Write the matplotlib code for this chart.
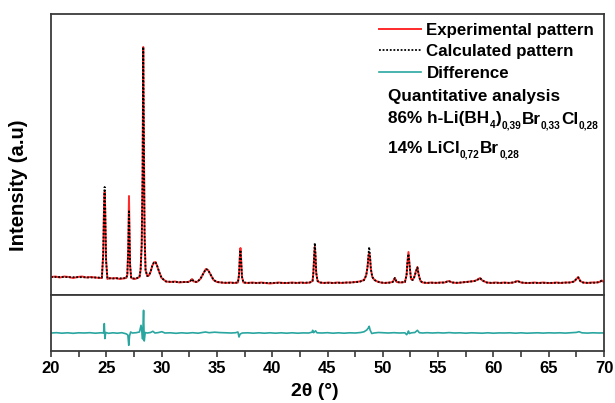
import matplotlib
matplotlib.use("Agg")
import matplotlib.pyplot as plt
from matplotlib.ticker import MultipleLocator

plt.rcParams['font.family'] = ['Liberation Sans', 'DejaVu Sans']
plt.rcParams['font.weight'] = 'bold'

# ---------------- data ----------------
two_theta = [
    20.0, 20.4, 20.8, 21.2, 21.6, 22.0, 22.4, 22.8, 23.2, 23.6, 24.0, 24.4,
    24.6, 24.72, 24.8, 24.85, 24.9, 24.98, 25.1,
    25.3, 25.6, 25.9, 26.2, 26.5, 26.8,
    26.9, 26.98, 27.02, 27.05, 27.09, 27.15, 27.25,
    27.4, 27.6, 27.8, 28.0, 28.1, 28.2, 28.28, 28.34, 28.4, 28.46, 28.55, 28.7, 28.85,
    29.0, 29.15, 29.3, 29.45, 29.6, 29.8, 30.0,
    30.4, 30.8, 31.2, 31.6, 32.0, 32.4, 32.6, 32.75, 32.9,
    33.2, 33.5, 33.8, 34.0, 34.2, 34.45, 34.7, 35.0,
    35.4, 35.8, 36.2, 36.6, 36.9,
    37.0, 37.07, 37.13, 37.19, 37.27, 37.4,
    37.8, 38.2, 38.6, 39.0, 39.4, 39.8, 40.2, 40.6, 41.0, 41.4, 41.8, 42.2, 42.6, 43.0, 43.4, 43.65,
    43.72, 43.8, 43.85, 43.9, 43.98, 44.1, 44.3,
    44.7, 45.1, 45.5, 45.9, 46.3, 46.7, 47.1, 47.5, 47.9, 48.3, 48.5,
    48.62, 48.7, 48.77, 48.84, 48.92, 49.05, 49.25, 49.5, 49.8,
    50.2, 50.6, 50.9, 51.09, 51.25, 51.6, 52.0, 52.15,
    52.22, 52.32, 52.42, 52.55, 52.7, 52.85, 53.0, 53.13, 53.25, 53.4, 53.6,
    54.0, 54.4, 54.8, 55.2, 55.6, 55.94, 56.3, 56.7, 57.1, 57.5, 57.9, 58.3, 58.6, 58.79, 59.0,
    59.4, 59.8, 60.2, 60.6, 61.0, 61.4, 61.8, 62.18, 62.5, 62.9, 63.3, 63.7, 64.1, 64.5, 64.9,
    65.3, 65.7, 66.1, 66.5, 66.9, 67.3, 67.5, 67.67, 67.85, 68.1, 68.5, 68.9, 69.3, 69.6, 69.8, 70.0,
]
exp_counts = [
    18.0, 18.5, 17.5, 18.5, 18.0, 17.0, 18.0, 18.5, 17.5, 18.0, 17.5, 17.0,
    17.0, 40.0, 90.0, 103.0, 85.0, 35.0, 16.0,
    17.0, 16.5, 17.0, 16.0, 16.5, 17.0,
    20.0, 45.0, 80.0, 99.0, 70.0, 30.0, 17.0,
    16.5, 16.0, 17.0, 18.0, 25.0, 50.0, 120.0, 248.0, 150.0, 60.0, 25.0, 19.0, 19.5,
    23.0, 29.0, 32.5, 33.0, 29.0, 22.5, 17.0,
    13.5, 13.0, 13.5, 12.5, 13.0, 13.0, 14.0, 16.0, 13.5,
    13.0, 16.0, 22.0, 26.0, 25.0, 20.0, 15.0, 13.0,
    12.5, 12.0, 12.5, 12.0, 12.5,
    20.0, 38.0, 47.0, 36.0, 18.0, 12.5,
    12.0, 12.5, 12.0, 12.5, 12.0, 11.5, 12.0, 12.5, 12.0, 12.0, 12.5, 12.0, 12.5, 12.0, 12.5, 14.0,
    22.0, 40.0, 48.0, 42.0, 22.0, 14.0, 12.5,
    12.0, 12.5, 12.0, 12.5, 12.0, 12.5, 12.5, 13.0, 13.5, 15.0, 20.0,
    28.0, 38.0, 42.0, 38.0, 26.0, 18.0, 15.0, 13.5, 12.5,
    12.0, 12.5, 13.0, 17.0, 13.0, 12.5, 13.0, 20.0,
    32.0, 43.0, 30.0, 16.0, 15.0, 18.0, 24.0, 28.0, 20.0, 14.0, 12.5,
    12.0, 12.5, 12.0, 12.5, 12.5, 14.0, 12.5, 12.0, 12.5, 13.0, 13.5, 14.0, 15.5, 17.0, 14.5,
    12.5, 12.0, 12.5, 12.0, 12.5, 12.0, 12.5, 14.0, 12.5, 12.0, 12.0, 12.5, 12.0, 12.5, 12.0,
    12.0, 12.5, 12.0, 12.5, 12.5, 13.5, 16.0, 18.0, 14.0, 12.5, 12.0, 12.5, 12.5, 13.0, 14.5, 13.0,
]
calc_counts = [
    18.0, 18.0, 18.0, 18.0, 17.8, 17.8, 17.8, 17.8, 17.6, 17.6, 17.5, 17.4,
    17.3, 42.0, 95.0, 108.0, 88.0, 34.0, 16.5,
    16.6, 16.6, 16.6, 16.6, 16.7, 17.0,
    20.0, 44.0, 70.0, 85.0, 65.0, 30.0, 17.0,
    16.5, 16.5, 17.0, 18.0, 25.0, 50.0, 120.0, 248.0, 150.0, 60.0, 25.0, 19.0, 19.5,
    23.0, 29.0, 32.5, 33.0, 29.0, 22.5, 17.0,
    13.5, 13.2, 13.0, 12.9, 12.9, 13.0, 14.0, 16.0, 13.5,
    13.0, 16.0, 22.0, 26.0, 25.0, 20.0, 15.0, 13.0,
    12.5, 12.3, 12.2, 12.2, 12.5,
    20.0, 37.0, 45.0, 35.0, 18.0, 12.5,
    12.2, 12.1, 12.1, 12.1, 12.0, 12.0, 12.0, 12.0, 12.0, 12.0, 12.1, 12.1, 12.2, 12.3, 12.5, 14.0,
    22.0, 42.0, 52.0, 44.0, 22.0, 14.0, 12.5,
    12.2, 12.1, 12.1, 12.2, 12.2, 12.3, 12.5, 12.8, 13.2, 14.8, 19.5,
    28.0, 40.0, 48.0, 40.0, 26.0, 18.0, 15.0, 13.5, 12.5,
    12.2, 12.3, 13.0, 17.0, 13.0, 12.5, 13.0, 20.0,
    32.0, 41.0, 30.0, 16.0, 15.0, 18.0, 23.5, 27.5, 20.0, 14.0, 12.5,
    12.2, 12.2, 12.2, 12.3, 12.5, 14.0, 12.5, 12.3, 12.5, 12.9, 13.4, 14.0, 15.5, 17.0, 14.5,
    12.5, 12.2, 12.2, 12.2, 12.2, 12.2, 12.5, 14.0, 12.5, 12.2, 12.1, 12.1, 12.1, 12.1, 12.1,
    12.1, 12.1, 12.2, 12.3, 12.5, 13.5, 16.0, 17.5, 14.0, 12.5, 12.2, 12.2, 12.4, 13.0, 14.5, 13.0,
]

diff_theta = [
    20.0, 20.5, 21.0, 21.5, 22.0, 22.5, 23.0, 23.5, 24.0, 24.5, 24.75, 24.82, 24.87, 24.95,
    25.2, 25.6, 26.0, 26.4, 26.79, 26.95, 27.03, 27.1, 27.2, 27.35, 27.7, 28.0, 28.14, 28.22,
    28.28, 28.37, 28.43, 28.52, 28.7, 29.0, 29.21, 29.4, 29.7, 30.02, 30.3, 30.8, 31.3, 31.8,
    32.3, 32.8, 33.3, 33.7, 33.96, 34.3, 34.8, 35.3, 35.8, 36.3, 36.7, 36.9, 37.0, 37.1, 37.3,
    37.8, 38.3, 38.8, 39.3, 39.8, 40.3, 40.8, 41.3, 41.8, 42.3, 42.8, 43.3, 43.6, 43.66, 43.75,
    43.92, 44.05, 44.5, 45.0, 45.5, 46.0, 46.5, 47.0, 47.5, 48.0, 48.3, 48.55, 48.72, 48.77,
    48.85, 49.0, 49.2, 49.6, 50.0, 50.5, 51.0, 51.5, 52.0, 52.16, 52.25, 52.32, 52.4, 52.6,
    52.9, 53.13, 53.3, 53.6, 54.0, 54.5, 55.0, 55.5, 56.0, 56.5, 57.0, 57.5, 58.0, 58.5, 59.0,
    59.5, 60.0, 60.5, 61.0, 61.5, 62.0, 62.5, 63.0, 63.5, 64.0, 64.5, 65.0, 65.5, 66.0, 66.5,
    67.0, 67.5, 67.74, 68.0, 68.5, 69.0, 69.5, 70.0,
]
diff_counts = [
    0.0, 0.3, -0.2, 0.2, -0.3, 0.2, 0.0, 0.3, -0.2, 0.2, 0.0, 9.4, -5.6, 0.5,
    -0.3, 0.2, -0.2, 0.3, -0.8, -2.0, -12.3, -3.0, 1.0, 0.0, 0.3, 1.0, 7.7, 1.0,
    -6.0, 22.7, -8.0, 0.5, 0.0, 0.5, 1.7, 0.0, 0.4, 1.3, 0.0, 0.2, -0.3, 0.2,
    -0.2, 0.3, -0.2, 0.5, 1.0, 0.3, 0.8, 0.4, 0.2, 0.0, 0.3, 1.0, -4.0, -1.0, 0.0,
    0.2, -0.2, 0.2, -0.2, 0.2, -0.2, 0.2, -0.2, 0.2, -0.2, 0.1, 0.0, 0.8, 2.7, 0.3,
    2.2, 0.2, 0.0, 0.3, -0.2, 0.2, -0.2, 0.2, 0.0, 0.5, 1.2, 3.0, 5.5, 6.7,
    3.0, -0.5, 0.0, 0.5, 0.3, 0.0, 0.3, 0.0, 0.2, -1.7, 0.0, 2.0, -0.5, 0.2,
    0.5, 2.7, 0.3, 0.0, 0.3, 0.0, 0.3, 0.0, 0.4, 0.0, 0.2, -0.2, 0.2, 0.0, -0.2,
    0.2, -0.2, 0.1, 0.0, 0.2, -0.2, 0.2, -0.2, 0.0, 0.2, -0.1, 0.2, 0.0, 0.2, -0.1,
    0.2, 0.6, 1.3, 0.2, -0.1, 0.2, 0.0, 0.1,
]

legend_labels = ["Experimental pattern", "Calculated pattern", "Difference"]
analysis_title = "Quantitative analysis"
# (text, is_subscript) pieces of the two composition lines
phase1_parts = [("86% h-Li(BH", False), ("4", True), (")", False), ("0,39", True),
                ("Br", False), ("0,33", True), ("Cl", False), ("0,28", True)]
phase2_parts = [("14% LiCl", False), ("0,72", True), ("Br", False), ("0,28", True)]
x_label = "2θ (°)"
y_label = "Intensity (a.u)"

# ---------------- colours / layout ----------------
RED = "#ff2a2a"
TEAL = "#2aa6a0"
SPINE = "#3a3a3a"
W, H = 615, 403

fig = plt.figure(figsize=(W / 100, H / 100), dpi=100)
ax = fig.add_axes([51 / W, 1 - 295 / H, (604 - 51) / W, (295 - 14) / H])
axd = fig.add_axes([51 / W, 1 - 351 / H, (604 - 51) / W, (351 - 295) / H])

l1, = ax.plot(two_theta, exp_counts, color=RED, lw=1.4, label=legend_labels[0])
l2, = ax.plot(two_theta, calc_counts, color="black", lw=1.3, ls=(0, (1, 1)),
              label=legend_labels[1])
l3, = axd.plot(diff_theta, diff_counts, color=TEAL, lw=1.2, label=legend_labels[2])

ax.set_xlim(20, 70)
ax.set_ylim(0, 281)
axd.set_xlim(20, 70)
axd.set_ylim(-18, 38)

for a in (ax, axd):
    for s in a.spines.values():
        s.set_color(SPINE)
        s.set_linewidth(1.3)
    a.set_yticks([])

ax.set_xticks([])
axd.xaxis.set_major_locator(MultipleLocator(5))
axd.xaxis.set_minor_locator(MultipleLocator(2.5))
axd.tick_params(axis="x", which="both", direction="out", length=4, width=1.2,
                color=SPINE, labelsize=12, pad=3)
for t in axd.get_xticklabels():
    t.set_fontweight("bold")

fig.text(315 / W, 1 - 392 / H, x_label, fontsize=14, fontweight="bold",
         ha="center", va="center")
fig.text(19 / W, 1 - 185 / H, y_label, rotation=90, fontsize=14.6, fontweight="bold",
         ha="center", va="center")

leg = ax.legend(handles=[l1, l2, l3], loc="upper left",
                bbox_to_anchor=(379 / W, 1 - 22.5 / H), bbox_transform=fig.transFigure,
                frameon=False, fontsize=12.2, borderpad=0, borderaxespad=0,
                handlelength=2.45, handletextpad=0.35, labelspacing=0.39)
for t in leg.get_texts():
    t.set_fontweight("bold")

MAIN_FS = 12.3
SUB_FS = 7.3
fig.text(388 / W, 1 - 97 / H, analysis_title, fontsize=MAIN_FS, fontweight="bold",
         ha="left", va="center")

renderer = fig.canvas.get_renderer()


def rich_line(x_px, base_px, parts):
    x = x_px
    for txt, sub in parts:
        fs = SUB_FS if sub else MAIN_FS
        yb = base_px + (5 if sub else 0)
        t = fig.text(x / W, 1 - yb / H, txt, fontsize=fs, fontweight="bold",
                     ha="left", va="baseline")
        x += t.get_window_extent(renderer).width + 0.3


rich_line(388, 123.5, phase1_parts)
rich_line(388, 152.5, phase2_parts)

fig.savefig("out.png", dpi=100)
